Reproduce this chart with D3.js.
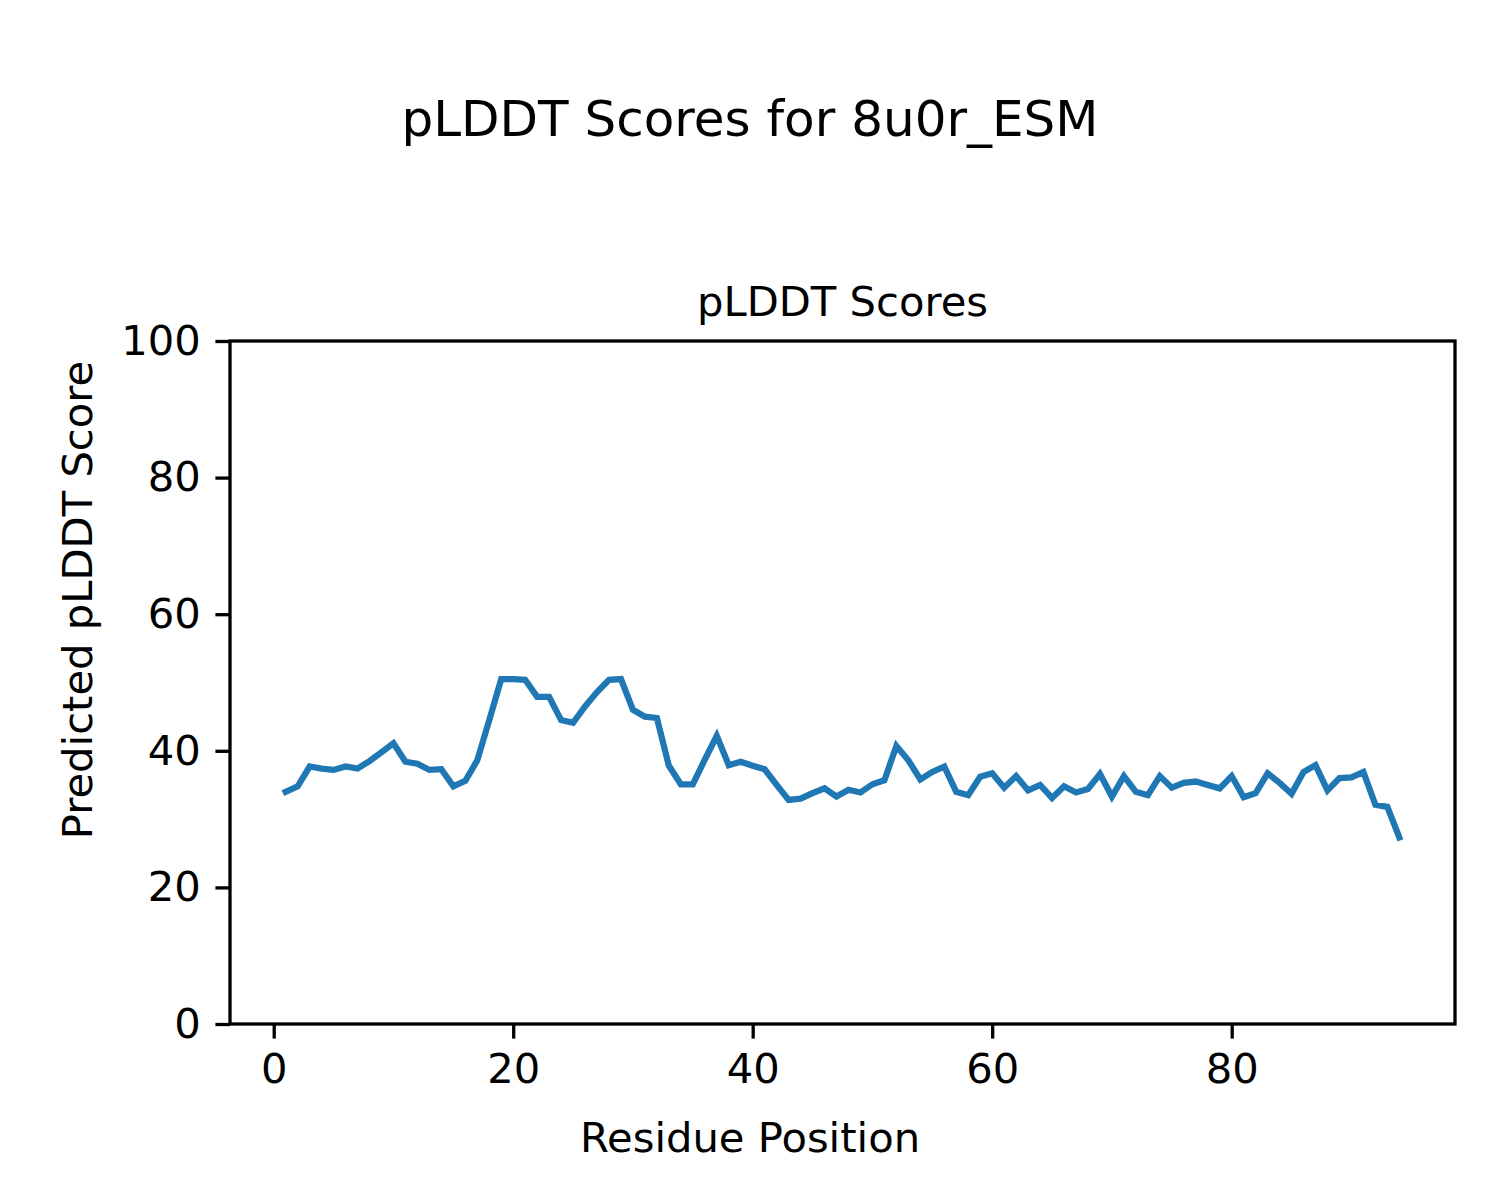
<!DOCTYPE html>
<html>
<head>
<meta charset="utf-8">
<script src="https://cdn.jsdelivr.net/npm/d3@7"></script>
<style>
  html, body { margin: 0; padding: 0; background: #fff; }
  text { font-family: "DejaVu Sans", sans-serif; fill: #000; }
</style>
</head>
<body>
<svg id="chart" width="1500" height="1200"></svg>
<script>
const positions = d3.range(1, 95);
const scores = [
  34.0, 34.8, 37.7, 37.4, 37.2, 37.7, 37.4, 38.5, 39.8, 41.1,
  38.4, 38.1, 37.2, 37.3, 34.8, 35.6, 38.6, 44.5, 50.5, 50.5,
  50.4, 47.9, 47.9, 44.5, 44.1, 46.5, 48.6, 50.4, 50.5, 46.0,
  45.0, 44.8, 37.8, 35.1, 35.1, 38.7, 42.2, 37.9, 38.4, 37.8,
  37.3, 35.0, 32.8, 33.0, 33.8, 34.5, 33.3, 34.3, 33.9, 35.1,
  35.7, 40.7, 38.6, 35.8, 36.9, 37.7, 34.0, 33.5, 36.2, 36.7,
  34.6, 36.3, 34.2, 35.0, 33.1, 34.8, 33.9, 34.4, 36.6, 33.3,
  36.3, 34.0, 33.5, 36.3, 34.6, 35.3, 35.5, 35.0, 34.5, 36.3,
  33.2, 33.8, 36.7, 35.3, 33.7, 36.9, 37.9, 34.2, 36.0, 36.1,
  36.9, 32.1, 31.8, 27.3
];
const xTicks = [0, 20, 40, 60, 80];
const yTicks = [0, 20, 40, 60, 80, 100];
const suptitle = "pLDDT Scores for 8u0r_ESM";
const axTitle = "pLDDT Scores";
const xLabel = "Residue Position";
const yLabel = "Predicted pLDDT Score";

const svg = d3.select("#chart");
const mLeft = 230, mRight = 1455, mTop = 341, mBottom = 1024;
const pad = (94 - 1) * 0.05;
const x = d3.scaleLinear().domain([1 - pad, 94 + pad]).range([mLeft, mRight]);
const y = d3.scaleLinear().domain([0, 100]).range([mBottom, mTop]);

const tickLen = 14.6, tickW = 3.3, fs = 41.7;

// line
const line = d3.line().x((d, i) => x(positions[i])).y(d => y(d));
svg.append("path")
  .datum(scores)
  .attr("d", line)
  .attr("fill", "none")
  .attr("stroke", "#1f77b4")
  .attr("stroke-width", 6.25)
  .attr("stroke-linejoin", "miter")
  .attr("stroke-linecap", "square");

// x axis
const xAxis = d3.axisBottom(x).tickValues(xTicks).tickSize(tickLen).tickPadding(14.6).tickFormat(d3.format("d"));
const gx = svg.append("g").attr("transform", `translate(0,${mBottom})`).call(xAxis);
gx.select(".domain").remove();
gx.selectAll(".tick line").attr("stroke", "#000").attr("stroke-width", tickW);
gx.selectAll(".tick text").attr("font-size", fs).attr("font-family", "DejaVu Sans").attr("fill", "#000");

// y axis
const yAxis = d3.axisLeft(y).tickValues(yTicks).tickSize(tickLen).tickPadding(14.6).tickFormat(d3.format("d"));
const gy = svg.append("g").attr("transform", `translate(${mLeft},0)`).call(yAxis);
gy.select(".domain").remove();
gy.selectAll(".tick line").attr("stroke", "#000").attr("stroke-width", tickW);
gy.selectAll(".tick text").attr("font-size", fs).attr("font-family", "DejaVu Sans").attr("fill", "#000");

// frame
svg.append("rect")
  .attr("x", mLeft).attr("y", mTop)
  .attr("width", mRight - mLeft).attr("height", mBottom - mTop)
  .attr("fill", "none").attr("stroke", "#000").attr("stroke-width", 3.3);

// titles
svg.append("text").attr("x", 750).attr("y", 136).attr("text-anchor", "middle")
  .attr("font-size", 50).text(suptitle);
svg.append("text").attr("x", (mLeft + mRight) / 2).attr("y", 316).attr("text-anchor", "middle")
  .attr("font-size", fs).text(axTitle);
svg.append("text").attr("x", 750).attr("y", 1152).attr("text-anchor", "middle")
  .attr("font-size", fs).text(xLabel);
svg.append("text").attr("transform", "translate(92,600) rotate(-90)").attr("text-anchor", "middle")
  .attr("font-size", fs).text(yLabel);
</script>
</body>
</html>
